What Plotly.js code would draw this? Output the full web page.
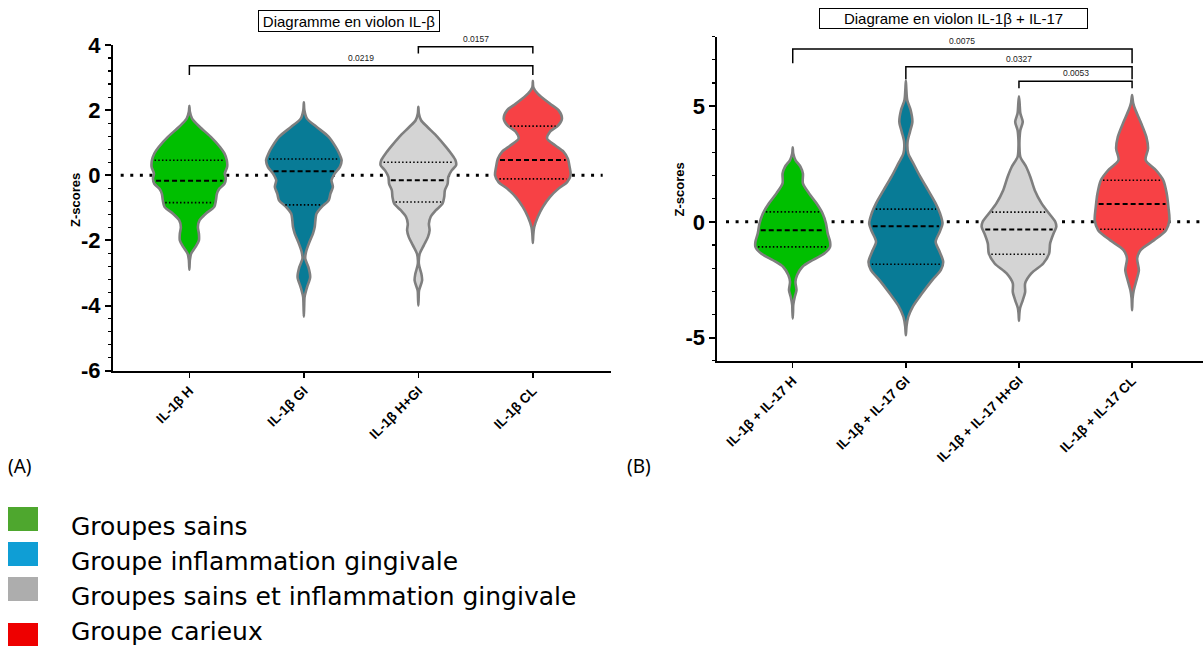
<!DOCTYPE html>
<html><head><meta charset="utf-8">
<script src="https://cdn.plot.ly/plotly-3.0.1.min.js"></script>
<style>html,body{margin:0;padding:0;background:#fff}#chart{width:1203px;height:646px}</style>
</head><body><div id="chart"></div>
<script>
// ================= DATA =================
const catsA = ['IL-1β H', 'IL-1β GI', 'IL-1β H+GI', 'IL-1β CL'];
const catsB = ['IL-1β + IL-17 H', 'IL-1β + IL-17 GI', 'IL-1β + IL-17 H+GI', 'IL-1β + IL-17 CL'];

// Panel A – density profiles (z-score level, relative density)
const zA_H   = [2.13, 1.95, 1.74, 1.49, 1.18, 0.87, 0.67, 0.46, 0.26, 0.05, -0.10, -0.26, -0.41, -0.56, -0.77, -0.97, -1.18, -1.38, -1.59, -1.79, -2.00, -2.20, -2.41, -2.60, -2.90];
const dA_H   = [0, 1.5, 8, 30, 63, 90, 103, 110, 111, 104, 107, 103, 88, 81, 78, 73, 48, 30, 25, 28, 28, 18, 5, 1.5, 0];
const zA_GI  = [2.24, 2.00, 1.74, 1.49, 1.18, 0.87, 0.67, 0.46, 0.26, 0.05, -0.15, -0.36, -0.56, -0.77, -0.97, -1.18, -1.38, -1.59, -1.79, -2.05, -2.36, -2.56, -2.82, -3.13, -3.44, -3.74, -4.00, -4.34];
const dA_GI  = [0, 1.5, 9, 36, 71, 91, 101, 108, 103, 88, 79, 83, 76, 71, 51, 36, 33, 31, 26, 16, 6, 4, 13, 18, 9, 2, 1, 0];
const zA_HGI = [2.10, 1.90, 1.69, 1.49, 1.18, 0.87, 0.67, 0.46, 0.31, 0.15, -0.05, -0.26, -0.46, -0.67, -0.87, -1.08, -1.28, -1.49, -1.69, -1.90, -2.15, -2.41, -2.72, -3.03, -3.23, -3.54, -3.75, -4.00];
const dA_HGI = [0, 1.5, 8, 26, 56, 81, 96, 109, 111, 98, 88, 86, 78, 76, 71, 51, 36, 31, 33, 28, 16, 4, 1.5, 9, 11, 2, 1, 0];
const zA_CL  = [2.90, 2.70, 2.51, 2.20, 2.00, 1.74, 1.54, 1.33, 1.13, 0.92, 0.72, 0.51, 0.26, 0.00, -0.21, -0.41, -0.67, -0.97, -1.28, -1.59, -1.80, -2.08];
const dA_CL  = [0, 1.5, 14, 49, 74, 84, 74, 49, 41, 64, 89, 101, 106, 109, 99, 74, 49, 29, 14, 4, 1.5, 0];
const q1A  = [-0.84, -0.91, -0.82, -0.11];
const medA = [-0.17, 0.12, -0.15, 0.47];
const q3A  = [0.46, 0.50, 0.40, 1.51];
const pairsA = [[0, 3], [2, 3]];
const pvalsA = ['0.0219', '0.0157'];

// Panel B – density profiles
const zB_H   = [3.22, 2.95, 2.67, 2.38, 2.09, 1.66, 1.23, 0.80, 0.36, -0.07, -0.50, -0.86, -1.08, -1.37, -1.66, -1.95, -2.30, -2.59, -2.95, -3.24, -3.60, -3.85, -4.18];
const dB_H   = [0, 1.5, 8, 23, 30, 30, 48, 70, 88, 98, 103, 110, 110, 93, 58, 28, 13, 8, 11, 6, 1.5, 1, 0];
const zB_GI  = [6.10, 5.70, 5.26, 4.83, 4.32, 3.89, 3.46, 2.96, 2.52, 1.95, 1.37, 0.80, 0.36, -0.07, -0.43, -0.86, -1.30, -1.73, -2.09, -2.52, -3.10, -3.67, -4.11, -4.50, -4.90];
const dB_GI  = [0, 1.5, 4, 14, 19, 12, 5, 7, 22, 42, 65, 87, 100, 107, 99, 87, 99, 109, 102, 77, 47, 20, 7, 2, 0];
const zB_HGI = [5.43, 5.10, 4.69, 4.32, 3.96, 3.53, 3.20, 2.81, 2.38, 1.95, 1.37, 0.80, 0.36, 0.00, -0.22, -0.50, -0.93, -1.37, -1.80, -2.23, -2.66, -3.03, -3.39, -3.74, -4.00, -4.28];
const dB_HGI = [0, 2, 4, 11, 4, 1.5, 1.5, 4, 21, 33, 46, 66, 88, 106, 109, 101, 91, 88, 71, 36, 18, 18, 11, 3, 1, 0];
const zB_CL  = [5.48, 5.15, 4.83, 4.25, 3.67, 3.17, 2.67, 2.24, 1.80, 1.23, 0.65, 0.07, -0.36, -0.79, -1.22, -1.58, -2.09, -2.52, -2.95, -3.30, -3.82];
const dB_CL  = [0, 3, 10, 27, 42, 47, 40, 70, 92, 102, 107, 110, 100, 65, 25, 15, 20, 13, 5, 1.5, 0];
const q1B  = [-1.08, -1.83, -1.40, -0.32];
const medB = [-0.36, -0.19, -0.33, 0.77];
const q3B  = [0.43, 0.55, 0.42, 1.80];
const pairsB = [[0, 3], [1, 3], [2, 3]];
const pvalsB = ['0.0075', '0.0327', '0.0053'];

const yTicksA = [-6, -4, -2, 0, 2, 4];
const yTicksB = [-5, 0, 5];

const legendLabels = ['Groupes sains', 'Groupe inflammation gingivale', 'Groupes sains et inflammation gingivale', 'Groupe carieux'];

// ================= DRAWING =================
const W = 1203, H = 646;
const fx = p => p / W, fy = p => 1 - p / H;
const FONT = '"Liberation Sans", Arial, sans-serif';
const fills = ['#00BF00', '#087B96', '#D4D4D4', '#F74145'];
const legendColors = ['#4EA72E', '#0F9ED5', '#ADADAD', '#EE0000'];
const HALF = 0.33;

const profA = [[zA_H, dA_H], [zA_GI, dA_GI], [zA_HGI, dA_HGI], [zA_CL, dA_CL]];
const profB = [[zB_H, dB_H], [zB_GI, dB_GI], [zB_HGI, dB_HGI], [zB_CL, dB_CL]];

function interpD(z, d, zq) {
  for (let i = 0; i < z.length - 1; i++) {
    if (z[i] >= zq && zq >= z[i + 1]) {
      const t = (z[i] - zq) / (z[i] - z[i + 1]);
      return d[i] + t * (d[i + 1] - d[i]);
    }
  }
  return 0;
}

const traces = [];
function addPanel(prof, q1, med, q3, xa, ya) {
  prof.forEach(([z, d], ci) => {
    const m = Math.max(...d);
    const xs = [], ys = [];
    for (let i = 0; i < z.length; i++) { xs.push(ci + HALF * d[i] / m); ys.push(z[i]); }
    for (let i = z.length - 2; i >= 0; i--) { xs.push(ci - HALF * d[i] / m); ys.push(z[i]); }
    traces.push({
      type: 'scatter', mode: 'lines', x: xs, y: ys, xaxis: xa, yaxis: ya,
      fill: 'toself', fillcolor: fills[ci],
      line: { color: '#7F7F7F', width: 2.6, shape: 'spline', smoothing: 0.8 },
      hoverinfo: 'skip', showlegend: false
    });
    const qs = [[q1[ci], '1.5px,2.2px', 1.6], [med[ci], '5px,3px', 2], [q3[ci], '1.5px,2.2px', 1.6]];
    qs.forEach(([q, dash, w]) => {
      const hw = HALF * interpD(z, d, q) / m * 0.93;
      traces.push({
        type: 'scatter', mode: 'lines', x: [ci - hw, ci + hw], y: [q, q], xaxis: xa, yaxis: ya,
        line: { color: '#000', width: w, dash: dash }, hoverinfo: 'skip', showlegend: false
      });
    });
  });
}
addPanel(profA, q1A, medA, q3A, 'x', 'y');
addPanel(profB, q1B, medB, q3B, 'x2', 'y2');

const shapes = [];
const annotations = [];

// zero reference lines (dotted)
shapes.push({ type: 'line', xref: 'x', yref: 'y', x0: -0.6, x1: 3.61, y0: 0, y1: 0, layer: 'below', line: { color: '#000', width: 3, dash: '3px,6.6px' } });
shapes.push({ type: 'line', xref: 'x2', yref: 'y2', x0: -0.59, x1: 3.63, y0: 0, y1: 0, layer: 'below', line: { color: '#000', width: 3, dash: '3px,6.6px' } });

// significance brackets
const brA = [[3.36, 3.08], [3.95, 3.74]];
const brB = [[7.47, 6.85], [6.70, 6.16], [6.08, 5.77]];
function addBrackets(pairs, pvals, br, xa, ya) {
  pairs.forEach(([a, b], k) => {
    const [top, leg] = br[k];
    shapes.push({ type: 'path', xref: xa, yref: ya, path: `M ${a},${leg} L ${a},${top} L ${b},${top} L ${b},${leg}`, line: { color: '#000', width: 1.5 } });
    annotations.push({ xref: xa, yref: ya, x: (a + b) / 2, y: top, xanchor: 'center', yanchor: 'bottom', yshift: 1, showarrow: false, text: pvals[k], font: { family: FONT, size: 8.5, color: '#222' } });
  });
}
addBrackets(pairsA, pvalsA, brA, 'x', 'y');
addBrackets(pairsB, pvalsB, brB, 'x2', 'y2');

// titles in boxes
annotations.push({ xref: 'paper', yref: 'paper', x: fx(349), y: fy(21), xanchor: 'center', yanchor: 'middle', text: 'Diagramme en violon IL-β', showarrow: false, bordercolor: '#000', borderwidth: 1, borderpad: 1, width: 178, height: 18, font: { family: FONT, size: 15, color: '#000' } });
annotations.push({ xref: 'paper', yref: 'paper', x: fx(953.5), y: fy(18.7), xanchor: 'center', yanchor: 'middle', text: 'Diagrame en violon IL-1β + IL-17', showarrow: false, bordercolor: '#000', borderwidth: 1, borderpad: 1, width: 265, height: 17, font: { family: FONT, size: 15, color: '#000' } });

// axis titles (rotated)
annotations.push({ xref: 'paper', yref: 'paper', x: fx(75), y: fy(200), xanchor: 'center', yanchor: 'middle', textangle: -90, text: 'Z-scores', showarrow: false, font: { family: FONT, size: 13, weight: 'bold', color: '#000' } });
annotations.push({ xref: 'paper', yref: 'paper', x: fx(678.5), y: fy(190), xanchor: 'center', yanchor: 'middle', textangle: -90, text: 'Z-scores', showarrow: false, font: { family: FONT, size: 13, weight: 'bold', color: '#000' } });

// panel labels
const LFONT = '"Noto Sans", "Open Sans", sans-serif';
annotations.push({ xref: 'paper', yref: 'paper', x: fx(6), y: fy(466), xanchor: 'left', yanchor: 'middle', text: '(A)', showarrow: false, font: { family: LFONT, size: 19, color: '#000' } });
annotations.push({ xref: 'paper', yref: 'paper', x: fx(625), y: fy(466), xanchor: 'left', yanchor: 'middle', text: '(B)', showarrow: false, font: { family: LFONT, size: 19, color: '#000' } });

// legend
const legY = [519, 554, 589, 635];
const legTextY = [526, 561.5, 596.5, 631];
legendLabels.forEach((lab, i) => {
  shapes.push({ type: 'rect', xref: 'paper', yref: 'paper', x0: fx(8), x1: fx(38), y0: fy(legY[i] - 12), y1: fy(legY[i] + 12), fillcolor: legendColors[i], line: { width: 0 } });
  annotations.push({ xref: 'paper', yref: 'paper', x: fx(69), y: fy(legTextY[i]), xanchor: 'left', yanchor: 'middle', text: lab, showarrow: false, font: { family: '"DejaVu Sans", sans-serif', size: 25, color: '#000' } });
});

const baseX = {
  tickmode: 'array', tickvals: [0, 1, 2, 3], tickangle: -45,
  showline: true, linewidth: 2, linecolor: '#000', mirror: false,
  ticks: 'outside', ticklen: 5, tickwidth: 1.5, tickcolor: '#000',
  tickfont: { family: FONT, size: 13.5, weight: 'bold', color: '#000' },
  showgrid: false, zeroline: false, fixedrange: true
};
const baseY = {
  tickmode: 'array', showline: true, linewidth: 2, linecolor: '#000',
  ticks: 'outside', ticklen: 6, tickwidth: 2, tickcolor: '#000',
  tickfont: { family: FONT, size: 22, weight: 'bold', color: '#000' },
  showgrid: false, zeroline: false, fixedrange: true
};

const layout = {
  width: W, height: H, margin: { l: 0, r: 0, t: 0, b: 0 },
  paper_bgcolor: '#fff', plot_bgcolor: 'rgba(0,0,0,0)', showlegend: false,
  font: { family: FONT, color: '#000' },
  xaxis: Object.assign({}, baseX, { domain: [fx(113), fx(610.7)], range: [-0.667, 3.68], ticktext: catsA, anchor: 'y' }),
  yaxis: Object.assign({}, baseY, {
    domain: [fy(370.7), fy(45)], range: [-6, 4], tickvals: yTicksA, ticktext: yTicksA.map(String), anchor: 'x',
    minor: { tick0: 0, dtick: 0.4, ticks: 'outside', ticklen: 3, tickwidth: 1.2, tickcolor: '#000' }
  }),
  xaxis2: Object.assign({}, baseX, { domain: [fx(717.4), 1], range: [-0.666, 3.627], ticktext: catsB, anchor: 'y2' }),
  yaxis2: Object.assign({}, baseY, {
    domain: [fy(360.7), fy(36.7)], range: [-6, 8], tickvals: yTicksB, ticktext: yTicksB.map(String), anchor: 'x2',
    minor: { tick0: 0, dtick: 1, ticks: 'outside', ticklen: 3, tickwidth: 1.2, tickcolor: '#000' }
  }),
  shapes: shapes, annotations: annotations
};

Plotly.newPlot('chart', traces, layout, { staticPlot: true, displayModeBar: false });
</script>
</body></html>
